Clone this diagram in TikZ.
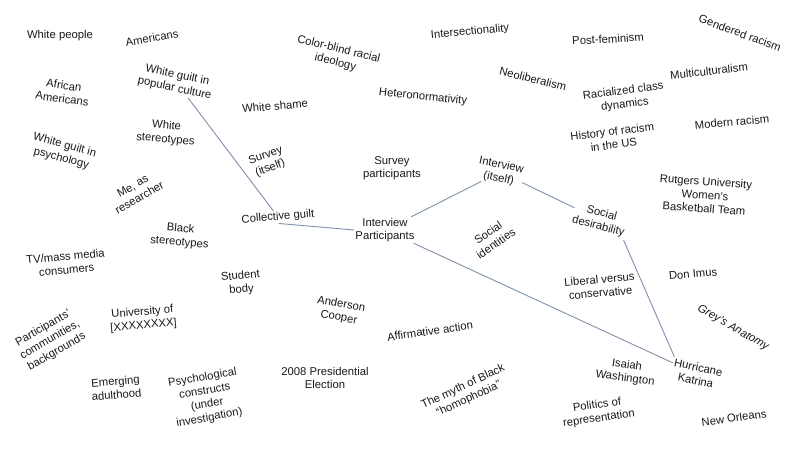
\documentclass[tikz,border=0pt]{standalone}
\usepackage{fontspec}
\setmainfont{Liberation Sans}
\definecolor{linkc}{HTML}{8090AE}
\definecolor{txt}{HTML}{1A1A1A}
\begin{document}
\begin{tikzpicture}[x=1pt,y=-1pt,
  lbl/.style={font=\fontsize{11.3}{13.5}\selectfont, align=center, inner sep=1pt, text=txt},
  link/.style={draw=linkc, line width=0.9pt}]
\useasboundingbox (0,0) rectangle (800,450);
\fill[white] (0,0) rectangle (800,450);
% left column
\node[lbl] (wp) at (60,36) {White people};
\node[lbl, rotate=10] (am) at (152,38) {Americans};
\node[lbl, rotate=-12] (wgpc) at (176,82) {White guilt in\\popular culture};
\node[lbl, rotate=-8] (aa) at (63,92) {African\\Americans};
\node[lbl, rotate=-5] (ws) at (166,133) {White\\stereotypes};
\node[lbl, rotate=-15] (wgp) at (63,152) {White guilt in\\psychology};
\node[lbl, rotate=30] (me) at (136,192) {Me, as\\researcher};
\node[lbl, rotate=-5] (bs) at (180,236) {Black\\stereotypes};
\node[lbl, rotate=5] (tv) at (66,263) {TV/mass media\\consumers};
\node[lbl, rotate=5] (sb) at (241,283) {Student\\body};
\node[lbl, rotate=30] (pcb) at (50,340) {Participants'\\communities,\\backgrounds};
\node[lbl, rotate=5] (uni) at (143,319) {University of\\{[XXXXXXXX]}};
\node[lbl, rotate=5] (ema) at (116,388) {Emerging\\adulthood};
\node[lbl, rotate=10] (psy) at (206,398) {Psychological\\constructs\\(under\\investigation)};
% middle
\node[lbl, rotate=5] (wsh) at (275,106) {White shame};
\node[lbl, rotate=20] (sv) at (268,162) {Survey\\(itself)};
\node[lbl, rotate=5] (cg) at (278,217) {Collective guilt};
\node[lbl, rotate=-14] (cb) at (337,56) {Color-blind racial\\ideology};
\node[lbl, rotate=5] (ins) at (470,32) {Intersectionality};
\node[lbl, rotate=-14] (neo) at (533,79) {Neoliberalism};
\node[lbl, rotate=-6] (het) at (423,97) {Heteronormativity};
\node[lbl] (sp) at (392,168) {Survey\\participants};
\node[lbl, rotate=-12] (ii) at (500,172) {Interview\\(itself)};
\node[lbl] (ip) at (385,230) {Interview\\Participants};
\node[lbl, rotate=35] (si) at (492,238) {Social\\identities};
\node[lbl, rotate=-10] (and) at (340,311) {Anderson\\Cooper};
\node[lbl, rotate=8] (aff) at (430,331) {Affirmative action};
\node[lbl] (pres) at (325,378) {2008 Presidential\\Election};
\node[lbl, rotate=25] (myth) at (466,393) {The myth of Black\\“homophobia”};
% right
\node[lbl, rotate=3] (pf) at (608,39) {Post-feminism};
\node[lbl, rotate=-20] (gr) at (740,33) {Gendered racism};
\node[lbl, rotate=6] (mc) at (709,71) {Multiculturalism};
\node[lbl, rotate=7] (rcd) at (624,98) {Racialized class\\dynamics};
\node[lbl, rotate=7] (hr) at (613,138) {History of racism\\in the US};
\node[lbl, rotate=5] (mr) at (732,122) {Modern racism};
\node[lbl, rotate=-15] (sd) at (600,220) {Social\\desirability};
\node[lbl, rotate=-4] (rut) at (705,195) {Rutgers University\\Women's\\Basketball Team};
\node[lbl, rotate=5] (lib) at (600,286) {Liberal versus\\conservative};
\node[lbl, rotate=5] (don) at (693,274) {Don Imus};
\node[lbl, rotate=-30] (grey) at (733,328) {\itshape Grey's Anatomy};
\node[lbl, rotate=-12] (hk) at (697,374) {Hurricane\\Katrina};
\node[lbl, rotate=-8] (isa) at (626,372) {Isaiah\\Washington};
\node[lbl, rotate=8] (pol) at (598,412) {Politics of\\representation};
\node[lbl, rotate=8] (no) at (734,418) {New Orleans};
% connectors
\draw[link] (wgpc) -- (cg);
\draw[link] (cg.south) -- (ip.west);
\draw[link] (ip) -- (ii);
\draw[link] (ii) -- (sd);
\draw[link] (sd.south east) -- (hk.north west);
\draw[link] (ip) -- (hk);
\end{tikzpicture}
\end{document}
